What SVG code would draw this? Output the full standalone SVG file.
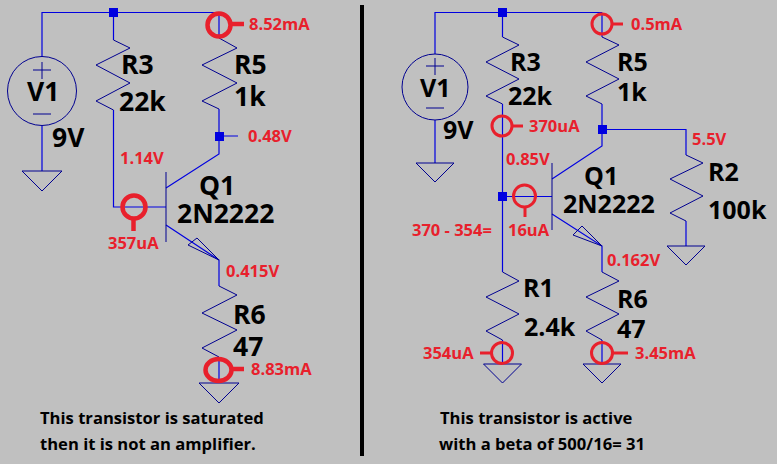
<svg xmlns="http://www.w3.org/2000/svg" width="777" height="464" viewBox="0 0 777 464">
<style>
.w{fill:none;stroke:#0000e0;stroke-width:1.2}
.t{fill:none;stroke:#000090;stroke-width:1}
.j{fill:#0000e0}
.p{fill:none;stroke:#e8202c;stroke-width:4.500}
.p2{fill:none;stroke:#e8202c;stroke-width:3}
.k{font:bold 26.500px "Open Sans",sans-serif;fill:#000}
.k2{font:bold 25px "Open Sans",sans-serif;fill:#000}
.r{font:bold 16.500px "Open Sans",sans-serif;fill:#e8202c}
.n{font:bold 16.600px "Open Sans",sans-serif;fill:#000}
</style>
<defs>
<path id="gl" class="t" d="M-20 0H20L0 20Z"/>
<path id="gr" class="t" d="M-19 0H19L0 19Z"/>
</defs>
<rect width="777" height="464" fill="#c0c0c0"/>
<rect x="360" y="5" width="4" height="451" fill="#000"/>
<g id="connectors">
<path class="w" d="M42 57V12.500H219M113.500 12.500V40M113.500 110V207H166M219 12.500V38M219 109V154L166 188M166 225L219 260V286M219 357V383M42 126V171M219 136H238"/>
<path class="w" d="M435 54V12.500H602M502.500 12.500V37M502.500 104V272M502.500 340V364M502.500 196.500H552M602 12.500V37M602 104V146L552 179M552 214L602 246V272M602 340V364M602 129.500H686V155M686 221V246M435 120V163"/>
</g>
<g id="left-V1"><circle class="t" cx="42" cy="91" r="34.500"/><path class="t" d="M33 70H51M42 62V79M33 114H51"/><text class="k" x="27" y="101">V1</text><text class="k" x="52" y="147">9V</text><use href="#gl" x="42" y="171"/></g>
<g id="left-R3"><path class="t" d="M113.500 40L130 48L96 65L130 83L96 101L113.500 110"/><text class="k" x="121" y="74">R3</text><text class="k" x="119" y="111">22k</text></g>
<g id="left-R5"><path class="t" d="M219 38L237 48L202 65L237 83L202 101L219 109"/><text class="k" x="234" y="74">R5</text><text class="k" x="234" y="106">1k</text></g>
<g id="left-Q1"><path class="t" d="M166 172V242"/><path class="t" d="M197 238L188 245L219 260Z"/><text class="k" x="199" y="195">Q1</text><text class="k" x="177" y="223">2N2222</text></g>
<g id="left-R6"><path class="t" d="M219 286L237 295L202 313L237 330L202 348L219 357"/><text class="k" x="233" y="324">R6</text><text class="k" x="233" y="356">47</text><use href="#gl" x="219" y="383"/></g>
<g id="left-j"><rect class="j" x="109" y="8" width="9" height="9"/><rect class="j" x="215" y="132" width="9" height="9"/></g>
<g id="left-probes">
<circle class="p" cx="219" cy="25" r="11.500"/><path class="p" d="M231 24H244"/><text class="r" x="249" y="30">8.52mA</text>
<text class="r" x="248" y="142">0.48V</text><text class="r" x="120" y="164">1.14V</text>
<circle class="p" cx="134" cy="207" r="11.500"/><path class="p" d="M133.500 219V231"/><text class="r" x="108" y="249">357uA</text>
<text class="r" x="226" y="277">0.415V</text>
<ellipse class="p" cx="218.500" cy="370" rx="13" ry="11"/><path class="p" d="M231 369H244"/><text class="r" x="251" y="375">8.83mA</text>
</g>
<text class="n" x="40" y="424">This transistor is saturated</text>
<text class="n" x="40" y="450">then it is not an amplifier.</text>
<g id="right-V1"><circle class="t" cx="435" cy="87" r="33"/><path class="t" d="M426 66H444M435 58V75M426 108H444"/><text class="k2" x="420" y="97">V1</text><text class="k2" x="443" y="139">9V</text><use href="#gr" x="435" y="163"/></g>
<g id="right-R3"><path class="t" d="M502.500 37L519 45L486 62L519 79L486 96L502.500 104"/><text class="k2" x="510" y="71">R3</text><text class="k2" x="508" y="105">22k</text></g>
<g id="right-R5"><path class="t" d="M602 37L619 45L586 62L619 79L586 96L602 104"/><text class="k2" x="617" y="71">R5</text><text class="k2" x="617" y="101">1k</text></g>
<g id="right-R2"><path class="t" d="M686 155L703 163L670 179L703 196L670 213L686 221"/><text class="k2" x="708" y="181">R2</text><text class="k2" x="708" y="219">100k</text><use href="#gr" x="686" y="246"/></g>
<g id="right-Q1"><path class="t" d="M552 163V230"/><path class="t" d="M582 226L573 235L602 246Z"/><text class="k2" x="584" y="185">Q1</text><text class="k2" x="563" y="213">2N2222</text></g>
<g id="right-R1"><path class="t" d="M502.500 272L519 281L486 297L519 314L486 331L502.500 340"/><text class="k2" x="523" y="297">R1</text><text class="k2" x="524" y="336">2.4k</text><use href="#gr" x="502.500" y="364"/></g>
<g id="right-R6"><path class="t" d="M602 272L619 281L586 297L619 314L586 331L602 340"/><text class="k2" x="617" y="308">R6</text><text class="k2" x="617" y="338">47</text><use href="#gr" x="602" y="364"/></g>
<g id="right-j"><rect class="j" x="498" y="8" width="9" height="9"/><rect class="j" x="598" y="125" width="9" height="9"/><rect class="j" x="498" y="192" width="9" height="9"/></g>
<g id="right-probes">
<circle class="p2" cx="602" cy="24" r="10"/><path class="p2" d="M612 24H623"/><text class="r" x="631" y="30">0.5mA</text>
<circle class="p2" cx="502" cy="126" r="10"/><path class="p2" d="M512 126H523"/><text class="r" x="529" y="132">370uA</text>
<text class="r" x="506" y="165">0.85V</text><text class="r" x="692" y="145">5.5V</text>
<circle class="p2" cx="524.500" cy="196" r="11"/><path class="p2" d="M525 207V217"/><text class="r" x="508" y="236">16uA</text>
<text class="r" x="412" y="236">370 - 354=</text><text class="r" x="607" y="266">0.162V</text>
<circle class="p2" cx="502" cy="353" r="10.500"/><path class="p2" d="M480 353H491"/><text class="r" x="423" y="359">354uA</text>
<circle class="p2" cx="602" cy="353" r="10.500"/><path class="p2" d="M613 353H628"/><text class="r" x="635" y="359">3.45mA</text>
</g>
<text class="n" x="440" y="424">This transistor is active</text>
<text class="n" x="439" y="450">with a beta of 500/16= 31</text>
</svg>
